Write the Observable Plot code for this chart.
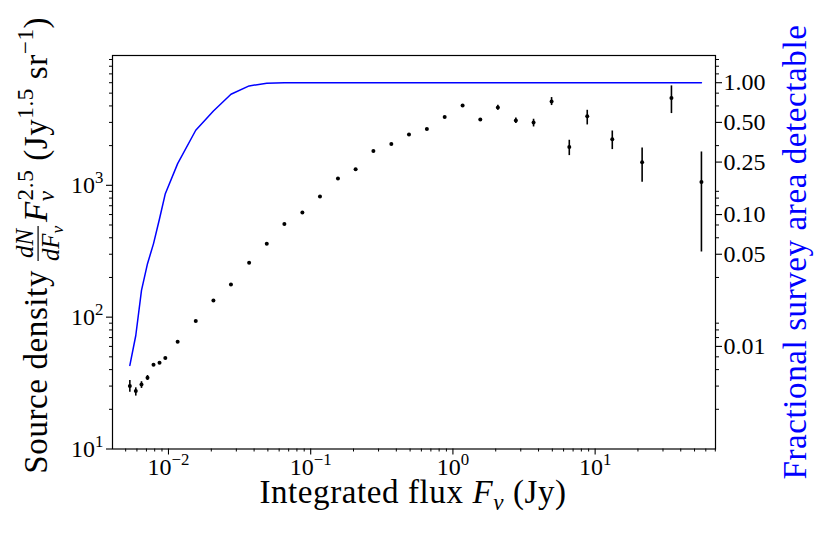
<!DOCTYPE html>
<html>
<head>
<meta charset="utf-8">
<script src="https://cdn.jsdelivr.net/npm/d3@7"></script>
<script src="https://cdn.jsdelivr.net/npm/@observablehq/plot@0.6"></script>
<style>
  html, body { margin: 0; padding: 0; background: #fff; }
  #chart { width: 830px; height: 538px; }
</style>
</head>
<body>
<div id="chart"></div>
<script>
// ---- data ----
const flux = [0.00535, 0.00589, 0.00646, 0.00712, 0.00785, 0.00865, 0.0095, 0.0116, 0.01555, 0.0207,
  0.0275, 0.0369, 0.0491, 0.0653, 0.0874, 0.1162, 0.1555, 0.207, 0.276, 0.369,
  0.491, 0.656, 0.875, 1.17, 1.558, 2.07, 2.77, 3.69, 4.94, 6.58,
  8.80, 13.2, 21.4, 34.4, 55.9];
const density = [30.0, 27.5, 30.9, 34.7, 43.5, 45.1, 49.1, 65.2, 93.3, 134,
  177, 259, 361, 508, 621, 821, 1124, 1322, 1820, 2057,
  2425, 2674, 3297, 4025, 3155, 3893, 3097, 2992, 4315, 1954,
  3342, 2234, 1495, 4598, 1059];
const errLow = [27.0, 25.2, 28.8, 33.1, null, null, null, null, null, null,
  null, null, null, null, null, null, null, null, null, null,
  null, null, null, null, null, 3707, 2940, 2770, 4025, 1680,
  2870, 1866, 1054, 3500, 312];
const errHigh = [33.1, 29.1, 32.4, 36.1, null, null, null, null, null, null,
  null, null, null, null, null, null, null, null, null, null,
  null, null, null, null, null, 4045, 3245, 3170, 4630, 2196,
  3707, 2582, 1919, 5675, 1790];
const completeness = [0.00718, 0.0121, 0.0266, 0.0424, 0.0602, 0.093, 0.144, 0.2435, 0.436, 0.611,
  0.818, 0.946, 0.991, 1, 1, 1, 1, 1, 1, 1,
  1, 1, 1, 1, 1, 1, 1, 1, 1, 1,
  1, 1, 1, 1, 1];

const xTickValues = [0.01, 0.1, 1, 10];
const xTickLabels = ["10^\u22122", "10^\u22121", "10^0", "10^1"];
const yTickValues = [10, 100, 1000];
const yTickLabels = ["10^1", "10^2", "10^3"];
const rightTickValues = [1, 0.5, 0.25, 0.1, 0.05, 0.01];
const rightTickLabels = ["1.00", "0.50", "0.25", "0.10", "0.05", "0.01"];
const areaScale = 6000; // left-axis units that correspond to a detectable fraction of 1

const xDomain = [0.00404, 70.2];
const yDomain = [10, 9650];
const FONT = "'Liberation Serif', 'DejaVu Serif', serif";
const BLUE = "#0000ff";

const rows = flux.map((f, i) => ({f, d: density[i], lo: errLow[i], hi: errHigh[i], c: completeness[i] * areaScale}));

function minors(lo, hi, dom) {
  const out = [];
  for (let e = lo; e <= hi; e++) for (let m = 2; m <= 9; m++) {
    const v = m * Math.pow(10, e);
    if (v >= dom[0] && v <= dom[1]) out.push(v);
  }
  return out;
}
const near = (a, b) => Math.abs(a - b) <= 1e-6 * Math.abs(b);
const lookup = (values, labels) => d => {
  const i = values.findIndex(v => near(+d, v));
  return i < 0 ? "" : labels[i];
};
const xMinor = minors(-3, 1, xDomain);
const yMinor = minors(1, 3, yDomain);
const rightMajor = rightTickValues.map(v => v * areaScale);
const rightMinor = yMinor.filter(v => !rightMajor.some(m => near(v, m)));

const plot = Plot.plot({
  width: 830, height: 538,
  marginTop: 55, marginBottom: 89.5, marginLeft: 112, marginRight: 115,
  style: {fontFamily: FONT, fontSize: "24px", color: "#000", background: "#fff", overflow: "visible"},
  x: {type: "log", domain: xDomain},
  y: {type: "log", domain: yDomain},
  marks: [
    Plot.axisX({ticks: xMinor, tickSize: 3, tickFormat: () => "", label: null, strokeWidth: 1}),
    Plot.axisX({ticks: xTickValues, tickSize: 6, tickPadding: 3, label: null, strokeWidth: 1.1,
      tickFormat: lookup(xTickValues, xTickLabels)}),
    Plot.axisY({ticks: yMinor, tickSize: 3, tickFormat: () => "", label: null, strokeWidth: 1}),
    Plot.axisY({ticks: yTickValues, tickSize: 6, tickPadding: 3, label: null, strokeWidth: 1.1,
      tickFormat: lookup(yTickValues, yTickLabels)}),
    Plot.axisY({anchor: "right", ticks: rightMinor, tickSize: 3, tickFormat: () => "", label: null, strokeWidth: 1}),
    Plot.axisY({anchor: "right", ticks: rightMajor, tickSize: 6, tickFormat: () => "", label: null, strokeWidth: 1.1}),
    Plot.text(rightTickValues, {y: d => d * areaScale, frameAnchor: "right", text: (d, i) => rightTickLabels[i],
      textAnchor: "start", dx: 8, fontSize: 24, fill: "#000"}),
    Plot.ruleX(rows.filter(r => r.lo != null), {x: "f", y1: "lo", y2: "hi", stroke: "#000", strokeWidth: 1.6}),
    Plot.line(rows, {x: "f", y: "c", stroke: BLUE, strokeWidth: 1.5}),
    Plot.dot(rows, {x: "f", y: "d", r: 2, fill: "#000", stroke: "none"}),
    Plot.frame({stroke: "#000", strokeWidth: 1.2})
  ]
});
document.getElementById("chart").append(plot);

const svg = d3.select(plot);

// drop the empty label texts of the minor-tick axes
svg.selectAll("text").filter(function () { return this.textContent.trim() === ""; }).remove();

// superscripts in tick labels
svg.selectAll("text").each(function () {
  const s = this.textContent;
  const k = s.indexOf("^");
  if (k < 0) return;
  const sel = d3.select(this);
  sel.text(null);
  sel.append("tspan").text(s.slice(0, k));
  sel.append("tspan").attr("font-size", "0.7em").attr("dy", "-0.6em").text(s.slice(k + 1));
});

// helper: one <text> made of flowing tspans
function flowText(parent, parts, FS, color, anchor) {
  const t = parent.append("text").attr("font-size", FS).attr("fill", color)
    .attr("text-anchor", anchor).style("font-family", FONT).style("white-space", "pre");
  for (const p of parts) {
    const ts = t.append("tspan").text(p.s);
    if (p.scale) ts.attr("font-size", FS * p.scale);
    if (p.italic) ts.attr("font-style", "italic");
    if (p.dy) ts.attr("dy", p.dy);
    if (p.dx) ts.attr("dx", p.dx);
  }
  return t;
}

const LFS = 33;

// x label
{
  const g = svg.append("g").attr("transform", "translate(413,503)");
  flowText(g, [
    {s: "Integrated flux "},
    {s: "F", italic: true},
    {s: "\u03bd", italic: true, scale: 0.7, dy: 7},
    {s: " (Jy)", dy: -7}
  ], LFS, "#000", "middle").style("letter-spacing", "0.6px");
}

// left y label (rotated), fraction placed at a fixed spot, text flows on both sides
{
  const g = svg.append("g").attr("transform", "translate(47,244) rotate(-90)");
  const xf = -18, fw = 37;
  flowText(g, [{s: "Source density"}], LFS, "#000", "end").attr("x", xf - 8).style("letter-spacing", "0.6px");
  const fs = LFS * 0.75;
  g.append("text").attr("x", xf + fw / 2).attr("y", -0.42 * LFS).attr("text-anchor", "middle")
    .attr("font-size", fs).attr("font-style", "italic").style("font-family", FONT).text("dN");
  const den = g.append("text").attr("x", xf + fw / 2).attr("y", 0.36 * LFS).attr("text-anchor", "middle")
    .attr("font-size", fs).attr("font-style", "italic").style("font-family", FONT);
  den.append("tspan").text("dF");
  den.append("tspan").attr("font-size", fs * 0.7).attr("dy", 4).text("\u03bd");
  g.append("line").attr("x1", xf + 1).attr("x2", xf + fw - 1)
    .attr("y1", -0.27 * LFS).attr("y2", -0.27 * LFS).attr("stroke", "#000").attr("stroke-width", 1.2);
  flowText(g, [
    {s: "F", italic: true},
    {s: "\u03bd", italic: true, scale: 0.7, dy: 7},
    {s: "2.5", scale: 0.7, dx: -10, dy: -21},
    {s: " (Jy", dy: 14},
    {s: "1.5", scale: 0.7, dy: -14},
    {s: " sr", dy: 14},
    {s: "\u22121", scale: 0.7, dy: -14},
    {s: ")", dy: 14}
  ], LFS, "#000", "start").attr("x", xf + fw + 3).style("letter-spacing", "0.6px");
}

// right y label
{
  const g = svg.append("g").attr("transform", "translate(806,252) rotate(-90)");
  flowText(g, [{s: "Fractional survey area detectable"}], LFS, BLUE, "middle").style("letter-spacing", "0.6px");
}
</script>
</body>
</html>
